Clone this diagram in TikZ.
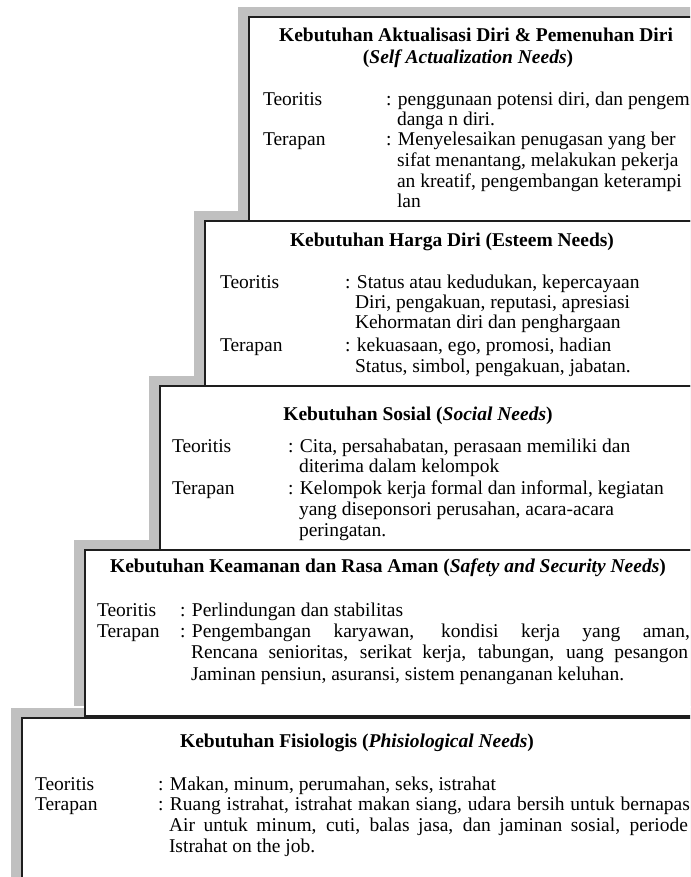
\documentclass[tikz,border=0pt]{standalone}
\usepackage{fontspec}
\setmainfont{Liberation Serif}
\definecolor{dropgray}{RGB}{192,192,192}
\definecolor{rulecol}{RGB}{30,30,30}
% one level of the stair: grey backdrop shifted up-left, then the white panel
\newcommand\drawlevel[3]{%
  \fill[backdrop] (#1-11,#2-10) rectangle (720,#3-10);
  \draw[panel] (#1,#2) rectangle (720,#3);}
\begin{document}
\begin{tikzpicture}[x=1pt,y=-1pt,
  panel/.style={draw=rulecol,line width=1.3pt,fill=white},
  backdrop/.style={fill=dropgray},
  body/.style={anchor=base west,inner sep=0pt,outer sep=0pt,font=\fontsize{19.5}{20}\selectfont},
  head/.style={anchor=base,inner sep=0pt,outer sep=0pt,font=\fontsize{19.5}{20}\selectfont\bfseries}]
\useasboundingbox (0,0) rectangle (690,877);
\clip (0,0) rectangle (690,877);

% panels, lowest level first so each upper panel covers the backdrop below it
\drawlevel{22}{718}{900}
\drawlevel{85}{550}{716}
\drawlevel{160}{386}{550}
\drawlevel{205}{221}{386}
\drawlevel{249}{17}{221}

% level 5: self actualization
\node[head] (t1a) at (476,42) {Kebutuhan Aktualisasi Diri \& Pemenuhan Diri};
\node[head] (t1b) at (468,64) {(\textit{Self Actualization Needs})};
\node[body] (k1a) at (263,106) {Teoritis};
\node[body] (v1a) at (386,106) {: penggunaan potensi diri, dan pengem};
\node[body] (v1b) at (397,126) {danga n diri.};
\node[body] (k1b) at (263,146) {Terapan};
\node[body] (v1c) at (386,146) {: Menyelesaikan penugasan yang ber};
\node[body] (v1d) at (397,167) {sifat menantang, melakukan pekerja};
\node[body] (v1e) at (397,188) {an kreatif, pengembangan keterampi};
\node[body] (v1f) at (397,208) {lan};

% level 4: esteem
\node[head] (t2) at (452,247) {Kebutuhan Harga Diri (Esteem Needs)};
\node[body] (k2a) at (220,288) {Teoritis};
\node[body] (v2a) at (345,288) {: Status atau kedudukan, kepercayaan};
\node[body] (v2b) at (355,308) {Diri, pengakuan, reputasi, apresiasi};
\node[body] (v2c) at (355,328) {Kehormatan diri dan penghargaan};
\node[body] (k2b) at (220,351) {Terapan};
\node[body] (v2d) at (345,351) {: kekuasaan, ego, promosi, hadian};
\node[body] (v2e) at (355,372) {Status, simbol, pengakuan, jabatan.};

% level 3: social
\node[head] (t3) at (418,420) {Kebutuhan Sosial (\textit{Social Needs})};
\node[body] (k3a) at (172,452) {Teoritis};
\node[body] (v3a) at (288,452) {: Cita, persahabatan, perasaan memiliki dan};
\node[body] (v3b) at (299,472) {diterima dalam kelompok};
\node[body] (k3b) at (172,494) {Terapan};
\node[body] (v3c) at (288,494) {: Kelompok kerja formal dan informal, kegiatan};
\node[body] (v3d) at (299,515) {yang diseponsori perusahan, acara-acara};
\node[body] (v3e) at (299,536) {peringatan.};

% level 2: safety
\node[head] (t4) at (388,572) {Kebutuhan Keamanan dan Rasa Aman (\textit{Safety and Security Needs})};
\node[body] (k4a) at (97,616) {Teoritis};
\node[body] (v4a) at (180,616) {: Perlindungan dan stabilitas};
\node[body] (k4b) at (97,637) {Terapan};
\node[body] (v4b) at (180,637) {: \makebox[498pt][s]{Pengembangan karyawan, kondisi kerja yang aman,}};
\node[body] (v4c) at (191,658) {\makebox[497pt][s]{Rencana senioritas, serikat kerja, tabungan, uang pesangon}};
\node[body] (v4d) at (191,680) {Jaminan pensiun, asuransi, sistem penanganan keluhan.};

% level 1: physiological
\node[head] (t5) at (357,747) {Kebutuhan Fisiologis (\textit{Phisiological Needs})};
\node[body] (k5a) at (35,790) {Teoritis};
\node[body] (v5a) at (158,790) {: Makan, minum, perumahan, seks, istrahat};
\node[body] (k5b) at (35,810) {Terapan};
\node[body] (v5b) at (158,810) {: \makebox[520pt][s]{Ruang istrahat, istrahat makan siang, udara bersih untuk bernapas}};
\node[body] (v5c) at (169,831) {\makebox[519pt][s]{Air untuk minum, cuti, balas jasa, dan jaminan sosial, periode}};
\node[body] (v5d) at (169,852) {Istrahat on the job.};
\end{tikzpicture}
\end{document}
